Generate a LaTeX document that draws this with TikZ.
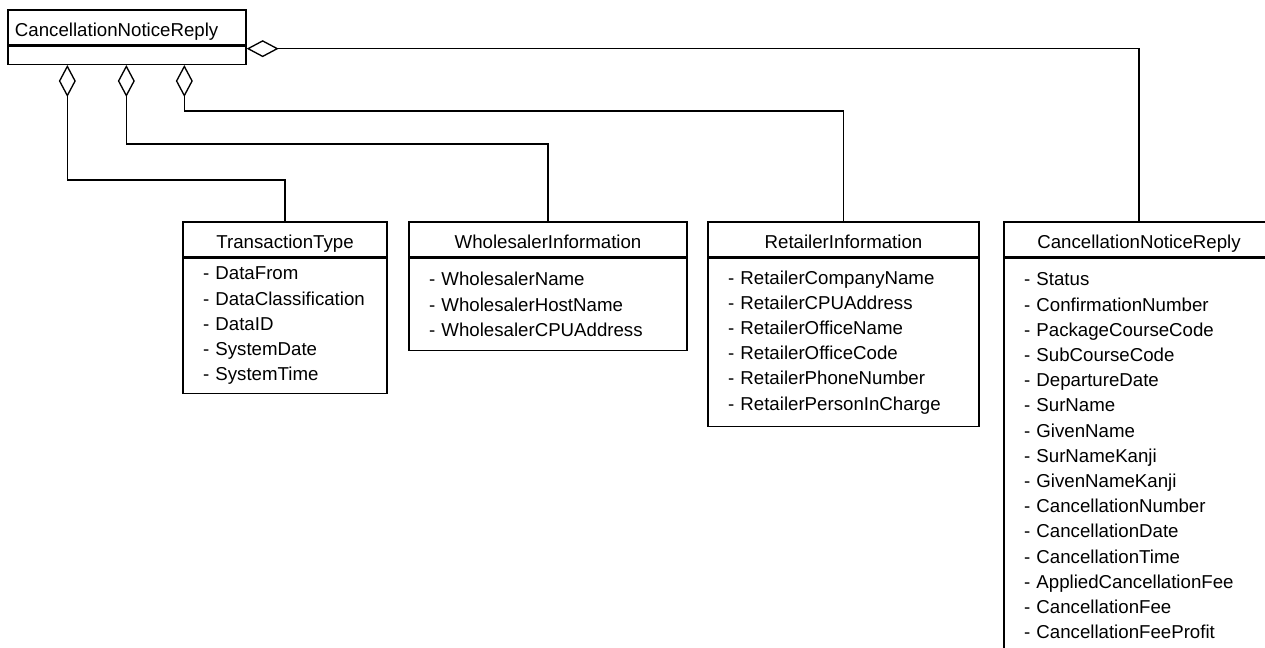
\documentclass[tikz,border=0pt]{standalone}
\usepackage{fontspec}
\setmainfont{Liberation Sans}
\usepackage{tikz}
\usetikzlibrary{positioning,arrows.meta}
\definecolor{ink}{HTML}{000000}
\tikzset{
  classname/.style={draw=ink, line width=1pt, minimum height=26.25pt, inner sep=0pt,
    text height=13pt, text depth=0pt, font=\fontsize{14}{18.9}\selectfont},
  classattr/.style={draw=ink, line width=1pt, inner xsep=15pt, inner ysep=0pt,
    align=left, font=\fontsize{14}{18.9}\selectfont},
  agg/.style={draw=ink, line width=1pt, {Diamond[open,length=24pt,width=12.75pt]}-}
}

\begin{document}
\begin{tikzpicture}[x=0.75pt, y=-0.75pt]
  \useasboundingbox (0,0) rectangle (1265,648);
  \clip (0,0) rectangle (1265,648);

  % owner class
  \node[classname, minimum width=178.5pt, text width=168pt, align=left, inner xsep=5.25pt] (root) at (127,27.5) {CancellationNoticeReply};
  \node[classattr, minimum width=178.5pt, minimum height=13.5pt, below=0pt of root] (rootattr) {};

  % parts
  \node[classname, minimum width=153pt] (trans) at (285,239.5) {TransactionType};
  \node[classattr, text width=123pt, minimum height=101.25pt, below=0pt of trans] (transattr)
    {- DataFrom\\- DataClassification\\- DataID\\- SystemDate\\- SystemTime};

  \node[classname, minimum width=208.5pt] (whole) at (548,239.5) {WholesalerInformation};
  \node[classattr, text width=178.5pt, minimum height=69pt, below=0pt of whole] (wholeattr)
    {- WholesalerName\\- WholesalerHostName\\- WholesalerCPUAddress};

  \node[classname, minimum width=203.25pt] (retail) at (843.5,239.5) {RetailerInformation};
  \node[classattr, text width=173.25pt, minimum height=126pt, below=0pt of retail] (retailattr)
    {- RetailerCompanyName\\- RetailerCPUAddress\\- RetailerOfficeName\\- RetailerOfficeCode\\- RetailerPhoneNumber\\- RetailerPersonInCharge};

  \node[classname, minimum width=202.5pt] (cancel) at (1139,239.5) {CancellationNoticeReply};
  \node[classattr, text width=172.5pt, minimum height=296.25pt, below=0pt of cancel] (cancelattr)
    {- Status\\- ConfirmationNumber\\- PackageCourseCode\\- SubCourseCode\\- DepartureDate\\- SurName\\- GivenName\\- SurNameKanji\\- GivenNameKanji\\- CancellationNumber\\- CancellationDate\\- CancellationTime\\- AppliedCancellationFee\\- CancellationFee\\- CancellationFeeProfit};

  % aggregations
  \draw[agg] ([xshift=45pt]rootattr.south west) -- ++(0,115) -| (trans.north);
  \draw[agg] ([xshift=89.25pt]rootattr.south west) -- ++(0,79) -| (whole.north);
  \draw[agg] ([xshift=132.75pt]rootattr.south west) -- ++(0,46) -| (retail.north);
  \draw[agg] ([yshift=-2.25pt]root.south east) -| (cancel.north);
\end{tikzpicture}
\end{document}
